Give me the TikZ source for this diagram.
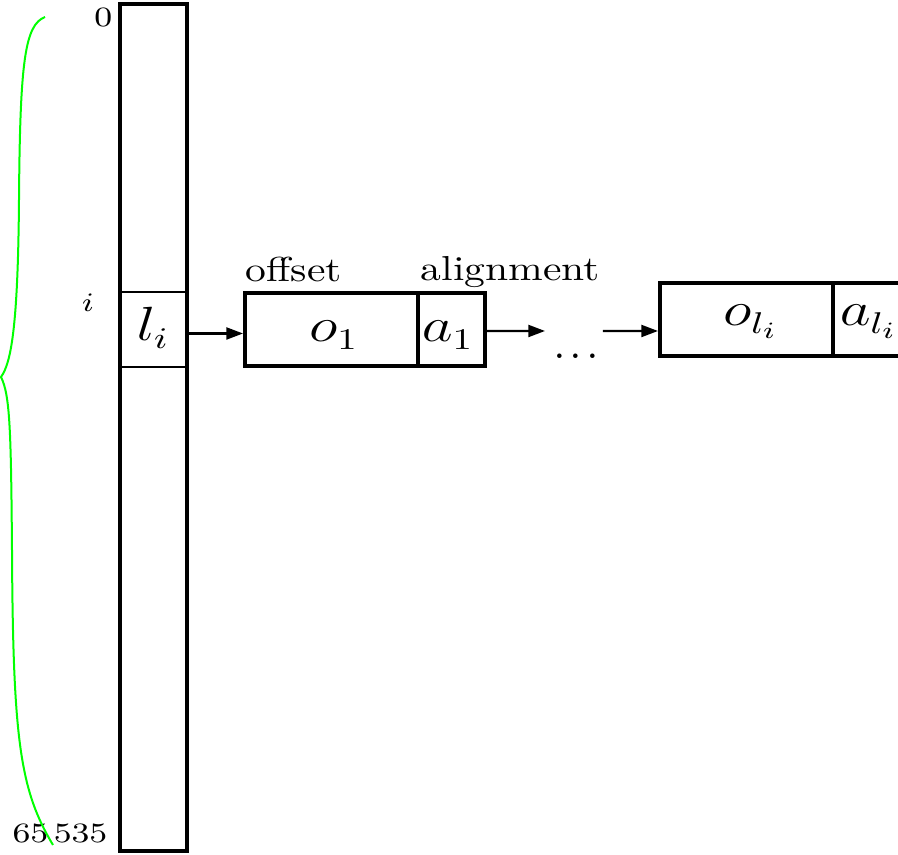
\documentclass[tikz,border=0pt]{standalone}
\usepackage{graphicx}
\usetikzlibrary{arrows.meta}
\newcommand\wid[1]{\scalebox{1.25}[1]{#1}}
\newcommand\widsm[1]{\scalebox{1.2}[1]{#1}}
\begin{document}
\begin{tikzpicture}[x=0.3pt,y=-0.3pt,
  boxstyle/.style={draw, line width=1.2pt, inner sep=0pt, minimum height={73*0.3pt}},
  arr/.style={line width=0.65pt, -{Triangle[length=5pt,width=3.6pt]}},
  small/.style={inner sep=0pt, font=\fontsize{8.4}{10}\selectfont},
  lbl/.style={inner sep=0pt, font=\fontsize{10.4}{12}\selectfont},
  mth/.style={inner sep=0pt, font=\fontsize{13.5}{16}\selectfont},
  brace/.style={draw=green, line width=0.6pt}]
\useasboundingbox (0,0) rectangle (898,855);
\clip (0,0) rectangle (898,855);
% main column
\node[draw, line width=1.2pt, inner sep=0pt, minimum width={67.5*0.3pt}, minimum height={847*0.3pt}] (col) at (153.75,427.5) {};
\node[inner sep=0pt, minimum width={67.5*0.3pt}, minimum height={73*0.3pt}] (cell) at (153.75,329.5) {};
\draw[line width=0.6pt] (cell.north west) -- (cell.north east);
\draw[line width=0.6pt] (cell.south west) -- (cell.south east);
\node[mth, anchor=base] (li) at (153,341) {\wid{$l_i$}};
% index labels
\node[small, anchor=base east] (zero) at (113,27) {\widsm{0}};
\node[small, anchor=base east] (max) at (108,843) {\widsm{65\,535}};
\node[small, anchor=base] (idx) at (88,312) {\widsm{$i$}};
% brace
\draw[brace] (45,17) .. controls (25,25) and (20,60) .. (19,200)
  .. controls (18,320) and (12,362) .. (1,377)
  .. controls (10,395) and (11,430) .. (12,550)
  .. controls (13,740) and (20,790) .. (53,845);
% first record
\node[boxstyle, minimum width={173*0.3pt}] (o1box) at (331.5,329.5) {};
\node[boxstyle, minimum width={67*0.3pt}] (a1box) at (451.5,329.5) {};
\node[mth, anchor=base] (o1) at (334,342) {\wid{$o_1$}};
\node[mth, anchor=base] (a1) at (448,342) {\wid{$a_1$}};
\node[lbl, anchor=base west] (offlbl) at (245,282) {\scalebox{1.2}[1]{offset}};
\node[lbl, anchor=base west] (allbl) at (420,281) {\scalebox{1.2}[1]{alignment}};
% dots
\coordinate (d1) at (545,331);
\coordinate (d2) at (603,331);
\node[inner sep=0pt, font=\fontsize{14}{16}\selectfont, anchor=base west] (dots) at (553,359) {.\kern1.1pt.\kern1.1pt.};
% last record
\node[boxstyle, minimum width={173*0.3pt}] (olbox) at (746.5,319.5) {};
\node[boxstyle, minimum width={70*0.3pt}] (albox) at (868,319.5) {};
\node[mth, anchor=base] (ol) at (751,326) {\wid{$o_{l_i}$}};
\node[mth, anchor=base] (al) at (869,326) {\wid{$a_{l_i}$}};
% connectors
\draw[arr] ([yshift=-1.2pt]cell.east) -- ([yshift=-1.2pt]o1box.west);
\draw[arr] ([yshift=-0.45pt]a1box.east) -- (d1);
\draw[arr] (d2) -- ([yshift=-3.45pt]olbox.west);
\end{tikzpicture}
\end{document}
